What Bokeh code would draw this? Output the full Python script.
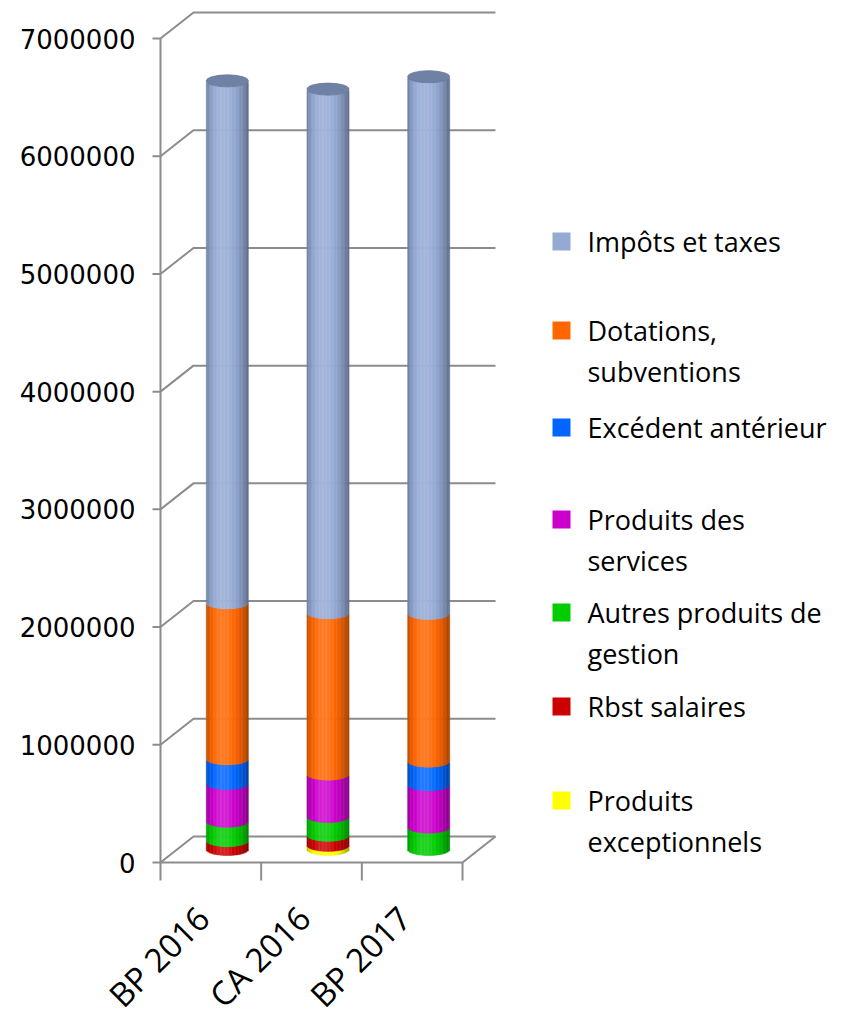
import math
import numpy as np
from bokeh.plotting import figure
from bokeh.models import Range1d
from bokeh.core.properties import value
from bokeh.embed import file_html
from bokeh.resources import INLINE

# ---------------- data ----------------
categories = ["BP 2016", "CA 2016", "BP 2017"]
produits_exceptionnels = [0, 35000, 0]
rbst_salaires = [75000, 85000, 0]
autres_produits_gestion = [165000, 160000, 190000]
produits_services = [320000, 360000, 360000]
excedent_anterieur = [210000, 0, 200000]
dotations_subventions = [1325000, 1370000, 1255000]
impots_taxes = [4435000, 4450000, 4560000]
y_ticks = [0, 1000000, 2000000, 3000000, 4000000, 5000000, 6000000, 7000000]
y_tick_labels = ["0", "1000000", "2000000", "3000000", "4000000", "5000000", "6000000", "7000000"]

# stack order bottom -> top
stack_series = [produits_exceptionnels, rbst_salaires, autres_produits_gestion,
                produits_services, excedent_anterieur, dotations_subventions, impots_taxes]
stack_colors = ["#FFFF00", "#CC0000", "#00CC00", "#CC00CC", "#0066FF", "#FF6600", "#94A9D4"]
cap_color = "#6F82A6"

# legend (top -> bottom)
legend_lines = [["Impôts et taxes"], ["Dotations,", "subventions"], ["Excédent antérieur"],
                ["Produits des", "services"], ["Autres produits de", "gestion"],
                ["Rbst salaires"], ["Produits", "exceptionnels"]]
legend_colors = ["#94A9D4", "#FF6600", "#0066FF", "#CC00CC", "#00CC00", "#CC0000", "#FFFF00"]

# ---------------- layout (canvas pixels) ----------------
W, H = 828, 1019
AXIS_X = 160.0
ZERO_Y = 862.0
KX = 100.67      # px per category
KY = 117.71      # px per 1,000,000

def X(px):
    return (px - AXIS_X) / KX

def Y(py):
    return (ZERO_Y - py) / KY * 1e6

def DX(px):
    return px / KX

def DY(px):
    return px / KY * 1e6

p = figure(width=W, height=H, x_range=Range1d(X(0), X(W)), y_range=Range1d(Y(H), Y(0)),
           output_backend="svg", toolbar_location=None, x_axis_location=None, y_axis_location=None,
           min_border_left=0, min_border_right=0, min_border_top=0, min_border_bottom=0)
p.outline_line_color = None
p.grid.grid_line_color = None
p.background_fill_color = "white"
p.border_fill_color = "white"

GRAY = "#8C8C8C"
ncat = len(categories)
dx = DX(33)
dy = DY(26)

# back wall grid lines
xs, ys = [], []
for v in y_ticks:
    xs.append([0, dx, ncat + dx])
    ys.append([v, v + dy, v + dy])
# floor front and right edges
xs.append([0, ncat, ncat + dx])
ys.append([0, 0, dy])
# value axis line
xs.append([0, 0])
ys.append([0, y_ticks[-1]])
p.multi_line(xs, ys, line_color=GRAY, line_width=2)
# value ticks
p.segment(x0=[X(152)] * len(y_ticks), y0=y_ticks, x1=[0] * len(y_ticks), y1=y_ticks,
          line_color=GRAY, line_width=2)
# category ticks below the floor
p.segment(x0=list(range(ncat + 1)), y0=[0] * (ncat + 1), x1=list(range(ncat + 1)),
          y1=[Y(880)] * (ncat + 1), line_color=GRAY, line_width=2)
# value tick labels
p.text(x=[X(135)] * len(y_ticks), y=y_ticks, text=y_tick_labels, text_align="right",
       text_baseline="middle", text_font=value("DejaVu Sans"), text_font_size="26px",
       text_color="black")

# ---------------- cylinders ----------------
def hex2rgb(h):
    h = h.lstrip("#")
    return [int(h[i:i + 2], 16) for i in (0, 2, 4)]

def shade(h, f):
    r = hex2rgb(h)
    if f <= 1:
        out = [c * f for c in r]
    else:
        t = min(1.0, (f - 1) * 2.0)
        out = [c + (255 - c) * t for c in r]
    return "#%02x%02x%02x" % tuple(int(max(0, min(255, round(c)))) for c in out)

def light(u):
    if u < -0.2:
        w = (u + 0.2) / 0.8
        return 1.07 - 0.32 * abs(w) ** 2.5
    w = (u + 0.2) / 1.2
    return 1.07 - 0.42 * w ** 2.2

a = DX(21)
e = DY(6)
base = dy / 2
NS = 30
edges = np.linspace(-1, 1, NS + 1)
centers = (edges[:-1] + edges[1:]) / 2
ov = 0.15 / NS

L, R, B, T, C = [], [], [], [], []
cap_x, cap_y = [], []
for i in range(ncat):
    xc = i + 0.5 + dx / 2
    cum = 0.0
    for s, col in zip(stack_series, stack_colors):
        v = s[i]
        if v <= 0:
            continue
        for j, u in enumerate(centers):
            arc = e * math.sqrt(max(0.0, 1 - u * u))
            L.append(xc + (edges[j] - ov) * a)
            R.append(xc + (edges[j + 1] + ov) * a)
            B.append(base + cum - arc)
            T.append(base + cum + v - arc)
            C.append(shade(col, light(u)))
        cum += v
    cap_x.append(xc)
    cap_y.append(base + cum)

p.quad(left=L, right=R, bottom=B, top=T, fill_color=C, line_color=C, line_width=0.4)
p.ellipse(x=cap_x, y=cap_y, width=2 * a, height=2 * e, fill_color=cap_color,
          line_color="#62759A", line_width=0.8)

# ---------------- category labels ----------------
p.text(x=[i + 0.5 - DX(52) for i in range(ncat)], y=[Y(956)] * ncat, text=categories,
       angle=math.pi / 4, text_align="center", text_baseline="middle",
       text_font=value("Open Sans"), text_font_size="33px", text_color="black")

# ---------------- legend ----------------
legend_first_y = [241, 330, 427, 519, 612, 706, 800]
line_gap = 41
sq_x, sq_y = [], []
tx, ty, tt = [], [], []
for lines, y0 in zip(legend_lines, legend_first_y):
    sq_x.append(X(561))
    sq_y.append(Y(y0))
    for k, ln in enumerate(lines):
        tx.append(X(587))
        ty.append(Y(y0 + k * line_gap))
        tt.append(ln)
p.scatter(x=sq_x, y=sq_y, marker="square", size=18, fill_color=legend_colors, line_color=None)
p.text(x=tx, y=ty, text=tt, text_align="left", text_baseline="middle",
       text_font=value("Open Sans"), text_font_size="27px", text_color="black")

open("out.html", "w").write(file_html(p, INLINE))
